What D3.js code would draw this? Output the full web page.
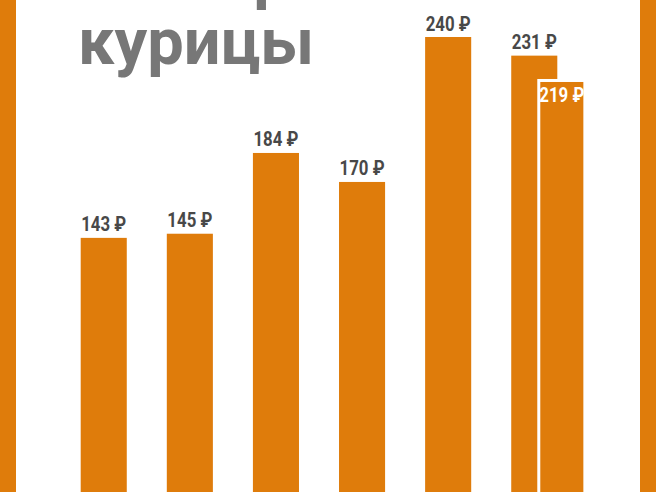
<!DOCTYPE html>
<html>
<head>
<meta charset="utf-8">
<script src="https://cdn.jsdelivr.net/npm/d3@7"></script>
<style>
  html, body { margin: 0; padding: 0; background: #fff; }
  svg { display: block; }
</style>
</head>
<body>
<svg id="chart" width="656" height="492"></svg>
<script>
const titleLines = ["Импорт", "курицы"];
const periods = ["p1", "p2", "p3", "p4", "p5", "p6"];
const prices = [143, 145, 184, 170, 240, 231];
const overlayPeriod = "p6";
const overlayPrice = 219;
const currency = "₽";

const svg = d3.select("#chart");
const width = +svg.attr("width");
const height = +svg.attr("height");
const orange = "#df7c0b";

// orange side strips
svg.append("rect").attr("x", 0).attr("y", 0).attr("width", 16).attr("height", height).attr("fill", orange);
svg.append("rect").attr("x", 640).attr("y", 0).attr("width", 16).attr("height", height).attr("fill", orange);

const x = d3
  .scaleBand()
  .domain(periods)
  .range([80.7, 557.3])
  .paddingInner(0.465)
  .paddingOuter(0);

const y = d3.scaleLinear().domain([0, 240]).range([534, 37]);

const bars = svg.append("g").attr("class", "bars");
const labels = svg.append("g").attr("class", "labels");

bars
  .selectAll("rect")
  .data(prices)
  .join("rect")
  .attr("x", (d, i) => x(periods[i]))
  .attr("y", d => y(d))
  .attr("width", x.bandwidth())
  .attr("height", d => y(0) - y(d))
  .attr("fill", orange);

labels
  .selectAll("text")
  .data(prices)
  .join("text")
  .attr("x", (d, i) => x(periods[i]) + x.bandwidth() / 2)
  .attr("y", d => y(d) - 6.5)
  .attr("text-anchor", "middle")
  .attr("font-family", "Roboto, 'Noto Sans', sans-serif")
  .attr("font-weight", 700)
  .attr("font-size", 19.5)
  .attr("fill", "#484848")
  .attr("textLength", 45)
  .attr("lengthAdjust", "spacingAndGlyphs")
  .text(d => `${d} ${currency}`);

// overlapping bar for the last period
const ox = x(overlayPeriod) + x.step() * 0.32;
svg
  .append("rect")
  .attr("x", ox)
  .attr("y", y(overlayPrice))
  .attr("width", x.bandwidth())
  .attr("height", y(0) - y(overlayPrice))
  .attr("fill", orange)
  .attr("stroke", "#fff")
  .attr("stroke-width", 3);

svg
  .append("text")
  .attr("x", ox + x.bandwidth() / 2)
  .attr("y", y(overlayPrice) + 21.5)
  .attr("text-anchor", "middle")
  .attr("font-family", "Roboto, 'Noto Sans', sans-serif")
  .attr("font-weight", 700)
  .attr("font-size", 19.5)
  .attr("fill", "#fff")
  .attr("textLength", 45)
  .attr("lengthAdjust", "spacingAndGlyphs")
  .text(`${overlayPrice} ${currency}`);

// title, first line cut off by the top edge
svg
  .append("g")
  .attr("class", "title")
  .selectAll("text")
  .data(titleLines)
  .join("text")
  .attr("x", (d, i) => (i === 0 ? 85 : 78))
  .attr("y", (d, i) => -3 + i * 67)
  .attr("font-family", "Roboto, sans-serif")
  .attr("font-weight", 700)
  .attr("font-size", 65)
  .attr("fill", "#777777")
  .text(d => d);
</script>
</body>
</html>
